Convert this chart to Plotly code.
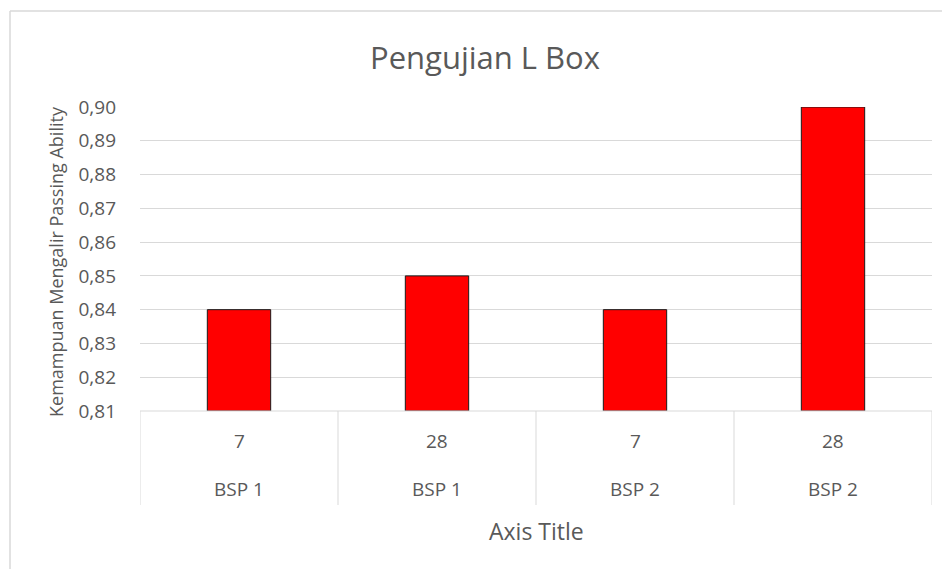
import plotly.graph_objects as go

# Data
groups = ["BSP 1", "BSP 1", "BSP 2", "BSP 2"]
days = ["7", "28", "7", "28"]
values = [0.84, 0.85, 0.84, 0.90]
y_ticks = [0.81, 0.82, 0.83, 0.84, 0.85, 0.86, 0.87, 0.88, 0.89, 0.90]
y_min, y_max = 0.81, 0.90

title_text = "Pengujian L Box"
y_title = "Kemampuan Mengalir Passing Ability"
x_title = "Axis Title"

FONT = "Open Sans"
GREY = "#595959"
LINE = "#d9d9d9"

OFF = 8  # page body margin
W, H = 950 - OFF, 569 - OFF
# screen-space plot box
SL, SR, ST, SB = 140, 932, 107, 411
L, T = SL - OFF, ST - OFF
R = W - (SR - OFF)
B = H - (SB - OFF)
plot_h = H - T - B
plot_w = W - L - R

def py(screen_y):
    return (SB - screen_y) / plot_h

def pxx(screen_x):
    return (screen_x - SL) / plot_w

xpos = list(range(len(values)))

fig = go.Figure()
fig.add_trace(go.Bar(
    x=xpos, y=[v - y_min for v in values], base=y_min,
    marker=dict(color="#ff0000", line=dict(color="#1a1a1a", width=1)),
    width=0.32,
    hoverinfo="skip",
))

shapes = []
shapes.append(dict(type="line", xref="x", yref="paper", x0=-0.5, x1=len(values) - 0.5, y0=0, y1=0,
                   line=dict(color=LINE, width=1)))
for i in range(len(values) + 1):
    shapes.append(dict(type="line", xref="x", yref="paper", x0=i - 0.5, x1=i - 0.5, y0=0, y1=py(505),
                       line=dict(color=LINE, width=1)))
shapes.append(dict(type="line", xref="paper", yref="paper", x0=pxx(10), x1=pxx(1000), y0=py(11), y1=py(11),
                   line=dict(color=LINE, width=1.5)))
shapes.append(dict(type="line", xref="paper", yref="paper", x0=pxx(10), x1=pxx(10), y0=py(11), y1=py(700),
                   line=dict(color=LINE, width=1.5)))

annotations = []
for i, (g, d) in enumerate(zip(groups, days)):
    annotations.append(dict(x=i, xref="x", y=py(441), yref="paper", text=d, showarrow=False,
                            font=dict(family=FONT, size=19, color=GREY), xanchor="center", yanchor="middle"))
    annotations.append(dict(x=i, xref="x", y=py(489), yref="paper", text=g, showarrow=False,
                            font=dict(family=FONT, size=19, color=GREY), xanchor="center", yanchor="middle"))
annotations.append(dict(x=pxx(536), xref="paper", y=py(531), yref="paper", text=x_title, showarrow=False,
                        font=dict(family=FONT, size=23, color=GREY), xanchor="center", yanchor="middle"))
annotations.append(dict(x=pxx(56), xref="paper", y=py(262), yref="paper", text=y_title, showarrow=False,
                        textangle=-90, font=dict(family=FONT, size=18, color=GREY),
                        xanchor="center", yanchor="middle"))
annotations.append(dict(x=pxx(485), xref="paper", y=py(57), yref="paper", text=title_text, showarrow=False,
                        font=dict(family=FONT, size=31, color=GREY), xanchor="center", yanchor="middle"))

fig.update_layout(
    width=W, height=H,
    margin=dict(l=L, r=R, t=T, b=B, autoexpand=False),
    paper_bgcolor="white", plot_bgcolor="white",
    separators=",.",
    showlegend=False,
    shapes=shapes,
    annotations=annotations,
    xaxis=dict(range=[-0.5, len(values) - 0.5], showticklabels=False, showgrid=False,
               zeroline=False, showline=False, ticks=""),
    yaxis=dict(range=[y_min, y_max], tickvals=y_ticks, tickformat=".2f", showgrid=True, gridcolor=LINE,
               gridwidth=1, zeroline=False, showline=False, ticks="", ticklabelstandoff=23,
               tickfont=dict(family=FONT, size=19, color=GREY)),
)
fig.write_html("out.html")
